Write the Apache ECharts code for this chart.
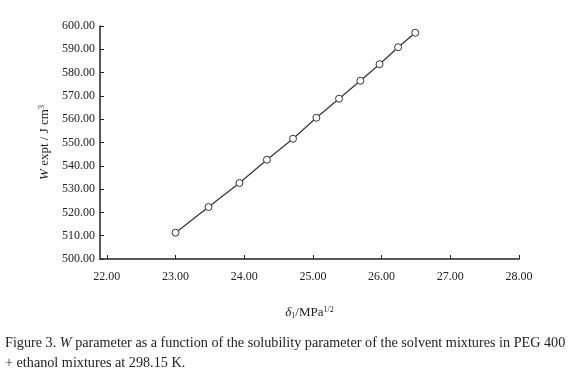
<!DOCTYPE html>
<html>
<head>
<meta charset="utf-8">
<script src="https://cdn.jsdelivr.net/npm/echarts@6/dist/echarts.min.js"></script>
<style>
  html, body { margin: 0; padding: 0; background: #fff; }
  #chart { width: 574px; height: 378px; }
</style>
</head>
<body>
<div id="chart"></div>
<script>
// solubility parameter of solvent mixture (MPa^1/2)
const delta = [23.00, 23.48, 23.93, 24.33, 24.71, 25.05, 25.38, 25.69, 25.97, 26.24, 26.49];
// W expt (J cm^-3)
const wExpt = [511.3, 522.3, 532.6, 542.6, 551.6, 560.6, 568.8, 576.5, 583.6, 590.9, 597.1];
// x tick positions (axis line starts a little before 22)
const xTicks = [22, 23, 24, 25, 26, 27, 28];

const captionLine1 = 'Figure 3. ';
const captionLine1b = 'W';
const captionLine1c = ' parameter as a function of the solubility parameter of the solvent mixtures in PEG 400';
const captionLine2 = '+ ethanol mixtures at 298.15 K.';

const serif = '"Liberation Serif", "DejaVu Serif", serif';

const chart = echarts.init(document.getElementById('chart'));

const option = {
  backgroundColor: '#fff',
  animation: false,
  grid: { left: 100, right: 55, top: 26, bottom: 119 },
  xAxis: {
    type: 'value',
    min: 21.9,
    max: 28,
    splitLine: { show: false },
    axisLine: { lineStyle: { color: '#222', width: 1.5 } },
    axisTick: { inside: true, length: 4, customValues: xTicks, lineStyle: { color: '#222' } },
    axisLabel: {
      color: '#222', fontFamily: serif, fontSize: 12, margin: 12,
      customValues: xTicks,
      formatter: v => v.toFixed(2)
    },
    name: '{d|δ}{sub|1}{n|/MPa}{sup|1/2}',
    nameLocation: 'middle',
    nameGap: 47,
    nameTextStyle: {
      rich: {
        d: { fontFamily: serif, fontStyle: 'italic', fontSize: 13, color: '#222' },
        sub: { fontFamily: serif, fontSize: 8, color: '#222', verticalAlign: 'bottom', padding: [6, 0, 0, 0] },
        n: { fontFamily: serif, fontSize: 13, color: '#222' },
        sup: { fontFamily: serif, fontSize: 8, color: '#222', verticalAlign: 'top', padding: [0, 0, 6, 0] }
      }
    }
  },
  yAxis: {
    type: 'value',
    min: 500,
    max: 600,
    interval: 10,
    splitLine: { show: false },
    axisLine: { show: true, lineStyle: { color: '#222', width: 1.5 } },
    axisTick: { show: true, inside: true, length: 4, lineStyle: { color: '#222' } },
    axisLabel: {
      color: '#222', fontFamily: serif, fontSize: 12, margin: 5,
      formatter: v => v.toFixed(2)
    },
    name: '{w|W}{n| expt / J cm}{sup|3}',
    nameLocation: 'middle',
    nameRotate: 90,
    nameGap: 40,
    nameTextStyle: {
      rich: {
        w: { fontFamily: serif, fontStyle: 'italic', fontSize: 13, color: '#222' },
        n: { fontFamily: serif, fontSize: 13, color: '#222' },
        sup: { fontFamily: serif, fontSize: 8, color: '#222', verticalAlign: 'top', padding: [0, 0, 6, 0] }
      }
    }
  },
  series: [{
    type: 'line',
    data: delta.map((d, i) => [d, wExpt[i]]),
    symbol: 'circle',
    symbolSize: 7,
    showAllSymbol: true,
    lineStyle: { color: '#333', width: 1.2 },
    itemStyle: { color: '#fff', borderColor: '#333', borderWidth: 1 }
  }],
  graphic: [
    {
      type: 'text',
      left: 5,
      top: 336,
      style: {
        text: '{n|' + captionLine1 + '}{i|' + captionLine1b + '}{n|' + captionLine1c + '}',
        rich: {
          n: { fontFamily: serif, fontSize: 14.2, fill: '#222' },
          i: { fontFamily: serif, fontSize: 14.2, fontStyle: 'italic', fill: '#222' }
        }
      }
    },
    {
      type: 'text',
      left: 5,
      top: 356,
      style: { text: captionLine2, fontFamily: serif, fontSize: 14.2, fill: '#222' }
    }
  ]
};

chart.setOption(option);
</script>
</body>
</html>
